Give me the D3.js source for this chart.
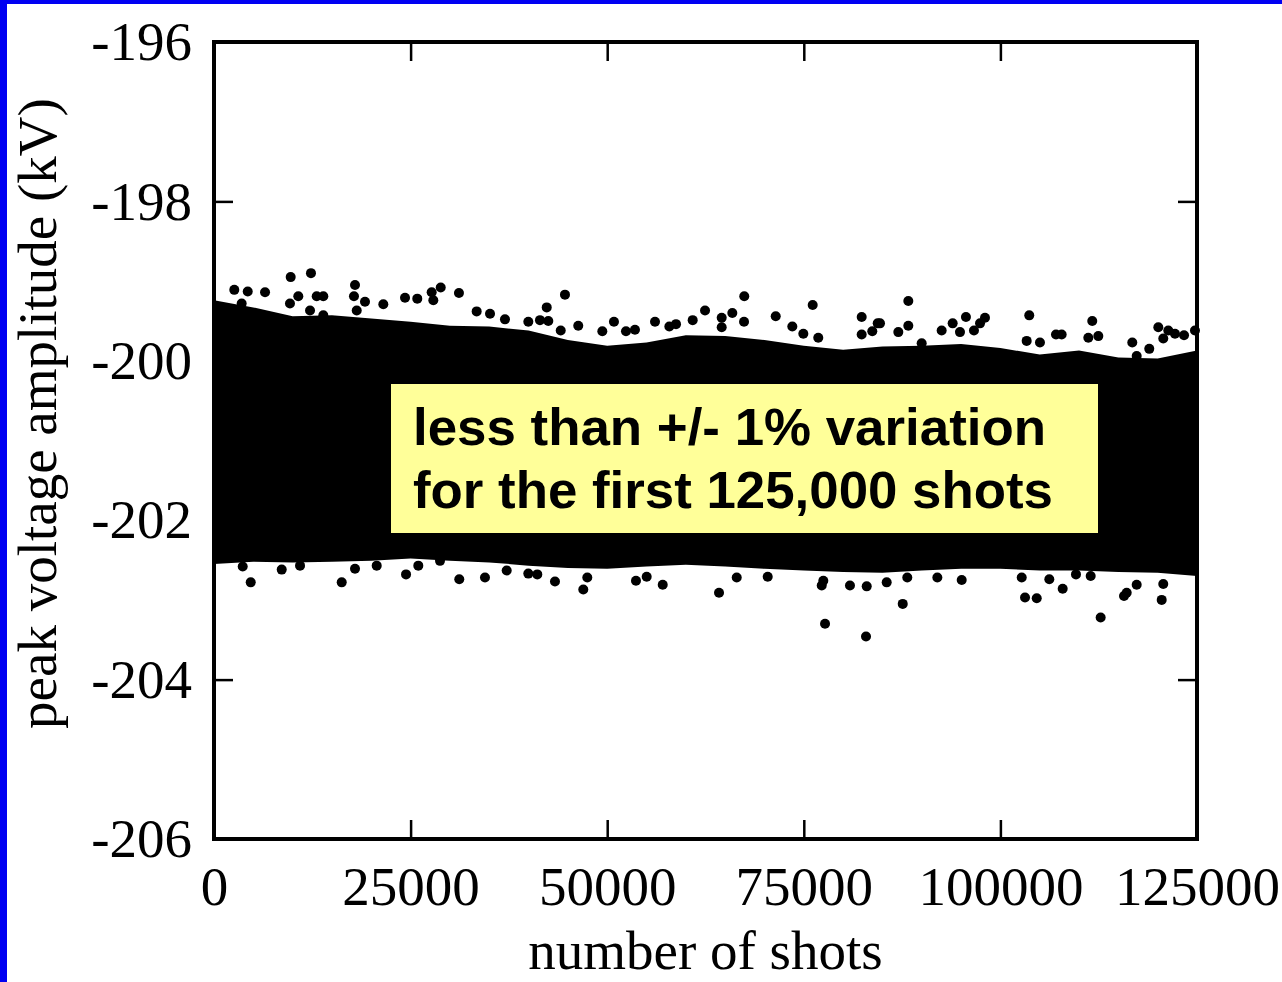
<!DOCTYPE html>
<html>
<head>
<meta charset="utf-8">
<title>Peak voltage amplitude vs number of shots</title>
<script src="https://cdn.jsdelivr.net/npm/d3@7"></script>
<style>
  html, body { margin: 0; padding: 0; background: #ffffff; }
  svg { display: block; }
</style>
</head>
<body>
<svg id="chart" width="1282" height="982"></svg>
<script>
// ---- Data ----------------------------------------------------------------
// Extent of the dense band of shots (kV), sampled every 5000 shots
const bandShots = [0, 5000, 10000, 15000, 20000, 25000, 30000, 35000, 40000, 45000,
  50000, 55000, 60000, 65000, 70000, 75000, 80000, 85000, 90000, 95000,
  100000, 105000, 110000, 115000, 120000, 125000];
const bandUpper = [-199.24, -199.33, -199.44, -199.43, -199.47, -199.51, -199.56, -199.57, -199.62, -199.74,
  -199.81, -199.77, -199.68, -199.69, -199.74, -199.81, -199.86, -199.82, -199.81, -199.79,
  -199.84, -199.92, -199.87, -199.96, -199.97, -199.87];
const bandLower = [-202.55, -202.52, -202.53, -202.52, -202.51, -202.48, -202.51, -202.53, -202.57, -202.60,
  -202.61, -202.58, -202.56, -202.58, -202.61, -202.63, -202.65, -202.66, -202.63, -202.61,
  -202.61, -202.63, -202.63, -202.65, -202.66, -202.70];

// Individual shots lying above the band: [shot, kV]
const highShots = [
  [9750, -198.95], [12330, -198.90], [2580, -199.11], [4290, -199.13], [6490, -199.14],
  [3520, -199.28], [17930, -199.05], [17800, -199.19], [10720, -199.19], [13060, -199.19],
  [13900, -199.19], [9660, -199.28], [12210, -199.37], [13900, -199.43], [19200, -199.26],
  [21530, -199.29], [24290, -199.21], [25850, -199.22], [27680, -199.14], [28830, -199.08],
  [31150, -199.15], [27890, -199.24], [33400, -199.38], [35100, -199.41], [37000, -199.48],
  [39970, -199.51], [42310, -199.33], [41450, -199.49], [18150, -199.37], [44630, -199.17],
  [42510, -199.50], [46320, -199.56], [44090, -199.62], [49380, -199.63], [50860, -199.51],
  [52390, -199.63], [53530, -199.61], [56080, -199.51], [57900, -199.57], [58750, -199.54],
  [60870, -199.49], [62440, -199.37], [64560, -199.46], [65910, -199.40], [64560, -199.58],
  [67430, -199.19], [67400, -199.51], [71430, -199.44], [73540, -199.57], [74940, -199.66],
  [76130, -199.30], [76840, -199.71], [82360, -199.45], [84400, -199.53], [83710, -199.63],
  [82360, -199.67], [88290, -199.25], [88290, -199.56], [87020, -199.64], [84690, -199.53],
  [89990, -199.78], [92530, -199.62], [93930, -199.53], [94860, -199.64], [95620, -199.45],
  [98040, -199.46], [97410, -199.53], [96640, -199.62], [103670, -199.43], [103340, -199.75],
  [105030, -199.77], [107070, -199.67], [107790, -199.67], [111680, -199.50], [112450, -199.69],
  [111180, -199.71], [116770, -199.77], [117330, -199.94], [118930, -199.85], [120080, -199.58],
  [121350, -199.62], [122200, -199.66], [123350, -199.68], [120710, -199.72], [124740, -199.62]
];

// Individual shots lying below the band: [shot, kV]
const lowShots = [
  [3650, -202.58], [4670, -202.78], [8610, -202.62], [16240, -202.78], [17930, -202.61],
  [20690, -202.57], [24420, -202.68], [25980, -202.57], [31190, -202.74], [37220, -202.63],
  [39970, -202.67], [41110, -202.68], [34460, -202.72], [10940, -202.57], [28740, -202.51],
  [43360, -202.77], [46960, -202.87], [47470, -202.72], [53660, -202.76], [55020, -202.71],
  [57060, -202.81], [64220, -202.91], [66470, -202.72], [70410, -202.71], [77280, -202.82],
  [77480, -202.76], [77700, -203.30], [80870, -202.82], [83000, -202.83], [82910, -203.46],
  [85540, -202.78], [88160, -202.72], [87580, -203.05], [91980, -202.72], [95080, -202.75],
  [102710, -202.72], [103130, -202.97], [104620, -202.98], [106220, -202.74], [107920, -202.86],
  [109610, -202.68], [111480, -202.70], [112750, -203.22], [116060, -202.91], [115720, -202.95],
  [117330, -202.81], [120710, -202.80], [120510, -203.00]
];

const xTicks = [0, 25000, 50000, 75000, 100000, 125000];
const yTicks = [-206, -204, -202, -200, -198, -196];
const noteLines = ["less than +/- 1% variation", "for the first 125,000 shots"];

// ---- Layout ----------------------------------------------------------------
const W = 1282, H = 982;
const plot = { left: 214, right: 1197, top: 42, bottom: 839 };
const serif = "'Liberation Serif', 'Times New Roman', serif";
const sans = "'Liberation Sans', Arial, sans-serif";

const svg = d3.select("#chart");

svg.append("rect").attr("width", W).attr("height", H).attr("fill", "#ffffff");

// slide border
svg.append("rect").attr("x", 0).attr("y", 0).attr("width", 7).attr("height", H).attr("fill", "#0000f2");
svg.append("rect").attr("x", 0).attr("y", 0).attr("width", W).attr("height", 4).attr("fill", "#0000f2");

const x = d3.scaleLinear().domain([0, 125000]).range([plot.left, plot.right]);
const y = d3.scaleLinear().domain([-206, -196]).range([plot.bottom, plot.top]);

// ---- Marks -----------------------------------------------------------------
const band = bandShots.map((s, i) => ({ s, hi: bandUpper[i], lo: bandLower[i] }));

svg.append("path")
  .datum(band)
  .attr("fill", "#000000")
  .attr("d", d3.area()
    .x(d => x(d.s))
    .y0(d => y(d.lo))
    .y1(d => y(d.hi)));

const dotR = 5;
svg.append("g")
  .selectAll("circle")
  .data(highShots.concat(lowShots))
  .join("circle")
  .attr("cx", d => x(d[0]))
  .attr("cy", d => y(d[1]))
  .attr("r", dotR)
  .attr("fill", "#000000");

// ---- Annotation box ----------------------------------------------------------
const note = svg.append("g");
note.append("rect")
  .attr("x", 391).attr("y", 384)
  .attr("width", 707).attr("height", 149)
  .attr("fill", "#ffff99");
note.selectAll("text")
  .data(noteLines)
  .join("text")
  .attr("x", 413)
  .attr("y", (d, i) => 445 + i * 63)
  .attr("font-family", sans)
  .attr("font-weight", "bold")
  .attr("font-size", 52)
  .attr("textLength", (d, i) => i === 0 ? 633 : 640)
  .attr("lengthAdjust", "spacingAndGlyphs")
  .attr("fill", "#000000")
  .text(d => d);

// ---- Axes --------------------------------------------------------------------
const plain = d => String(d);

function styleAxis(g) {
  g.select(".domain").remove();
  g.selectAll(".tick line").attr("stroke", "#000").attr("stroke-width", 2.5);
  g.selectAll(".tick text")
    .attr("font-family", serif)
    .attr("font-size", 55)
    .attr("fill", "#000");
}

svg.append("g")
  .attr("transform", `translate(0,${plot.bottom})`)
  .call(d3.axisBottom(x).tickValues(xTicks).tickSizeInner(-19).tickSizeOuter(0)
    .tickPadding(27).tickFormat(plain))
  .call(styleAxis);

svg.append("g")
  .attr("transform", `translate(0,${plot.top})`)
  .call(d3.axisTop(x).tickValues(xTicks).tickSizeInner(-19).tickSizeOuter(0).tickFormat(""))
  .call(styleAxis);

svg.append("g")
  .attr("transform", `translate(${plot.left},0)`)
  .call(d3.axisLeft(y).tickValues(yTicks).tickSizeInner(-19).tickSizeOuter(0)
    .tickPadding(22).tickFormat(plain))
  .call(styleAxis);

svg.append("g")
  .attr("transform", `translate(${plot.right},0)`)
  .call(d3.axisRight(y).tickValues(yTicks).tickSizeInner(-19).tickSizeOuter(0).tickFormat(""))
  .call(styleAxis);

// frame
svg.append("rect")
  .attr("x", plot.left).attr("y", plot.top)
  .attr("width", plot.right - plot.left)
  .attr("height", plot.bottom - plot.top)
  .attr("fill", "none")
  .attr("stroke", "#000")
  .attr("stroke-width", 4);

// axis titles
svg.append("text")
  .attr("x", (plot.left + plot.right) / 2)
  .attr("y", 969)
  .attr("text-anchor", "middle")
  .attr("font-family", serif)
  .attr("font-size", 55)
  .attr("fill", "#000")
  .text("number of shots");

svg.append("text")
  .attr("transform", `translate(56,${(plot.top + plot.bottom) / 2 - 27}) rotate(-90)`)
  .attr("text-anchor", "middle")
  .attr("font-family", serif)
  .attr("font-size", 55)
  .attr("fill", "#000")
  .text("peak voltage amplitude (kV)");
</script>
</body>
</html>
